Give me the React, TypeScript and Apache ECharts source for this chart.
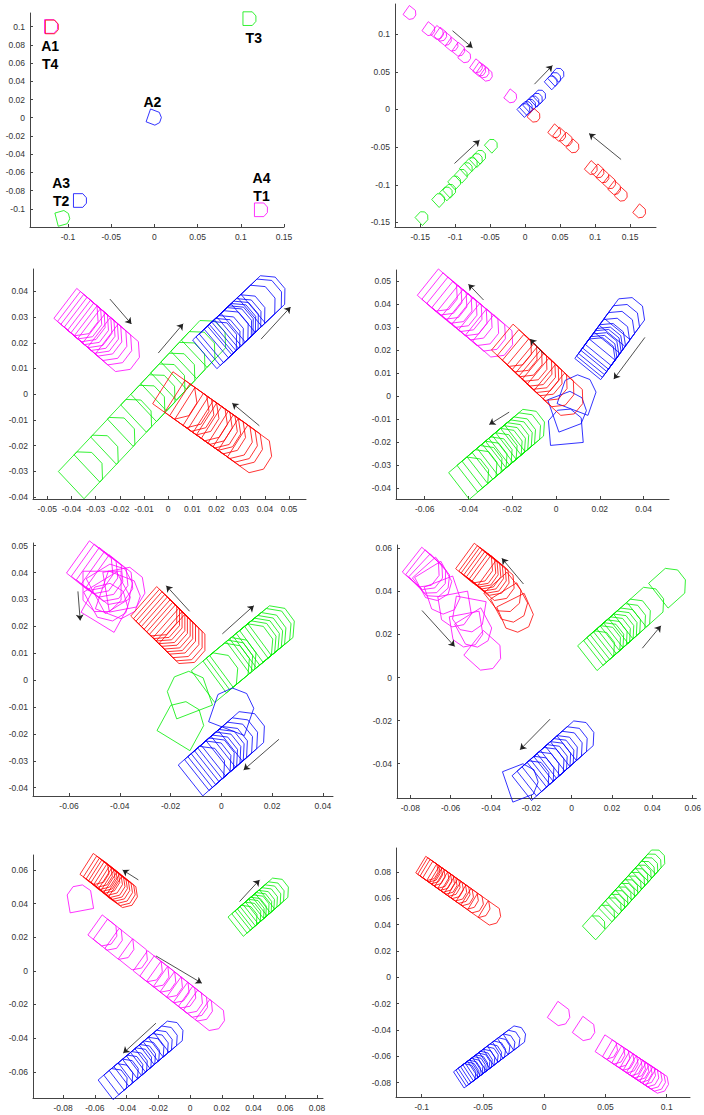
import React, { useEffect, useRef } from "react";
import * as echarts from "echarts";

type Pose = [number, number, number]; // x, y, heading (deg)
type Arrow = [number, number, number, number];

const FOOT = 0.015;

// ---------- Panel 1 ----------
const p1Red: Pose[] = [[-0.1187, 0.0997, 0]];
const p1Magenta: Pose[] = [[-0.1197, 0.1002, 0], [0.1233, -0.1011, 0]];
const p1Blue: Pose[] = [[0, 0, -20], [-0.0862, -0.0909, 0]];
const p1Green: Pose[] = [[-0.106, -0.11, 15], [0.11, 0.1088, 0]];
const p1LabelNames = ["A1", "T4", "A2", "T3", "A3", "T2", "A4", "T1"];
const p1LabelPos: [number, number][] = [
  [-0.1207, 0.079], [-0.1207, 0.0593], [-0.0023, 0.0176], [0.115, 0.088],
  [-0.108, -0.0714], [-0.108, -0.091], [0.124, -0.066], [0.124, -0.0857],
];

// ---------- Panel 2 ----------
const p2Magenta: Pose[] = [
  [-0.164, 0.1275, -37], [-0.137, 0.106, -37], [-0.1248, 0.101, -37], [-0.12, 0.0987, -37],
  [-0.1133, 0.093, -37], [-0.1038, 0.0854, -37], [-0.0943, 0.0788, -37], [-0.0857, 0.07, -37],
  [-0.069, 0.0567, -37], [-0.0643, 0.0522, -37], [-0.0595, 0.05, -37], [-0.0548, 0.0456, -37],
  [-0.02, 0.0168, -37],
];
const p2Blue: Pose[] = [
  [-0.001, 0, 45], [0.0024, 0.0027, 45], [0.0071, 0.0058, 45], [0.0119, 0.0102, 45],
  [0.0167, 0.0137, 45], [0.0214, 0.018, 45], [0.038, 0.0367, 45], [0.0429, 0.0412, 45],
  [0.0476, 0.0469, 45],
];
const p2Red: Pose[] = [
  [0.0133, -0.0089, -40], [0.0429, -0.0297, -40], [0.05, -0.0341, -40], [0.0595, -0.0407, -40],
  [0.069, -0.0496, -40], [0.0952, -0.0784, -40], [0.1048, -0.0828, -40], [0.1119, -0.0894, -40],
  [0.1214, -0.0974, -40], [0.1286, -0.1049, -40], [0.1381, -0.1138, -40], [0.1643, -0.1359, -40],
];
const p2Green: Pose[] = [
  [-0.1467, -0.1434, 45], [-0.1229, -0.1195, 45], [-0.1119, -0.1107, 45], [-0.1071, -0.1071, 45],
  [-0.1, -0.0961, 45], [-0.0905, -0.0872, 45], [-0.0833, -0.0784, 45], [-0.0762, -0.0717, 45],
  [-0.069, -0.0664, 45], [-0.0643, -0.062, 45], [-0.0476, -0.0474, 45],
];
const p2Arrows: Arrow[] = [
  [-0.1038, 0.1045, -0.0752, 0.0819],
  [0.0133, 0.0336, 0.039, 0.0584],
  [0.1371, -0.0664, 0.0914, -0.0319],
  [-0.101, -0.0717, -0.0652, -0.0407],
];

// ---------- Panel 3 ----------
const p3Red: Pose[] = [
  [0.004, -0.0017, -34], [0.009, -0.005, -34], [0.011, -0.0064, -34], [0.0131, -0.0078, -34],
  [0.0166, -0.0101, -34], [0.0186, -0.0115, -34], [0.0207, -0.0129, -34], [0.0221, -0.0138, -34],
  [0.0241, -0.0152, -34], [0.0269, -0.017, -34], [0.029, -0.0184, -34], [0.0311, -0.0198, -34],
  [0.0349, -0.0225, -34],
];
const p3Blue: Pose[] = [
  [0.0207, 0.0205, 42], [0.0221, 0.0217, 42], [0.0235, 0.0228, 42], [0.0255, 0.0247, 42],
  [0.0269, 0.0259, 42], [0.0276, 0.0266, 42], [0.0286, 0.0275, 42], [0.0297, 0.0284, 42],
  [0.0308, 0.0294, 42], [0.0324, 0.0309, 42], [0.0366, 0.0346, 42], [0.0393, 0.037, 42],
  [0.0407, 0.0383, 42],
];
const p3Green: Pose[] = [
  [-0.0348, -0.0301, 45], [-0.0283, -0.0236, 45], [-0.0214, -0.0167, 45], [-0.0145, -0.0097, 45],
  [-0.009, -0.0042, 45], [-0.0048, -0.0001, 45], [-0.0007, 0.0041, 45], [0.0034, 0.0083, 45],
  [0.0076, 0.0125, 45], [0.0117, 0.0167, 45], [0.0161, 0.021, 45],
];
const p3Magenta: Pose[] = [
  [-0.0367, 0.0306, -39], [-0.0352, 0.0294, -39], [-0.0338, 0.0283, -39], [-0.0324, 0.0272, -39],
  [-0.031, 0.026, -39], [-0.0297, 0.0249, -39], [-0.0283, 0.0238, -39], [-0.0269, 0.0227, -39],
  [-0.0248, 0.021, -39], [-0.0228, 0.0193, -39], [-0.0196, 0.0167, -39],
];
const p3Arrows: Arrow[] = [
  [-0.0241, 0.037, -0.0152, 0.0273],
  [-0.0041, 0.016, 0.0062, 0.0274],
  [0.0384, 0.0214, 0.0506, 0.0339],
  [0.0377, -0.0123, 0.0265, -0.0035],
];

// ---------- Panel 4 ----------
const p4Magenta: Pose[] = [
  [-0.0528, 0.0449, -40], [-0.0507, 0.0432, -40], [-0.0484, 0.0414, -40], [-0.0461, 0.0396, -40],
  [-0.0438, 0.0378, -40], [-0.0415, 0.036, -40], [-0.0392, 0.0342, -40], [-0.0369, 0.0324, -40],
  [-0.0339, 0.0299, -40], [-0.0308, 0.0275, -40], [-0.0275, 0.0249, -40],
];
const p4Red: Pose[] = [
  [-0.0189, 0.0208, -41], [-0.0163, 0.0184, -41], [-0.014, 0.0163, -41], [-0.0118, 0.0143, -41],
  [-0.0095, 0.0122, -41], [-0.0079, 0.0108, -41], [-0.0064, 0.0094, -41], [-0.0049, 0.008, -41],
  [-0.0026, 0.0059, -41], [0.0005, 0.0032, -41], [0.0046, -0.0006, -41],
];
const p4Blue: Pose[] = [
  [0.0191, 0.0177, 52], [0.0199, 0.0187, 52], [0.0208, 0.0199, 52], [0.0218, 0.0213, 52],
  [0.0226, 0.0223, 52], [0.0238, 0.0239, 52], [0.0257, 0.0262, 52], [0.0279, 0.0292, 52],
  [0.0302, 0.0322, 52], [0.0325, 0.0352, 52],
  [0.0101, 0.0012, 70], [0.0058, -0.0061, 20], [0.0043, -0.0134, 95],
];
const p4Green: Pose[] = [
  [-0.0385, -0.0345, 39], [-0.0347, -0.0313, 39], [-0.0324, -0.0295, 39], [-0.0301, -0.0276, 39],
  [-0.0278, -0.0257, 39], [-0.0255, -0.0239, 39], [-0.0232, -0.022, 39], [-0.0217, -0.0208, 39],
  [-0.0202, -0.0195, 39], [-0.0186, -0.0183, 39], [-0.0171, -0.017, 39], [-0.0148, -0.0152, 39],
  [-0.013, -0.0137, 39],
];
const p4Arrows: Arrow[] = [
  [-0.0331, 0.0419, -0.04, 0.0488],
  [-0.0056, 0.0183, -0.0118, 0.0249],
  [0.0406, 0.0256, 0.0264, 0.0074],
  [-0.0214, -0.007, -0.0305, -0.0124],
];

// ---------- Panel 5 ----------
const p5Magenta: Pose[] = [
  [-0.0505, 0.0413, -37], [-0.0486, 0.0401, -37], [-0.0466, 0.0388, -37], [-0.0446, 0.0373, -37],
  [-0.0427, 0.0361, -37],
  [-0.047, 0.033, -90], [-0.044, 0.03, -60], [-0.04, 0.031, -20], [-0.038, 0.034, 10],
  [-0.043, 0.035, 30], [-0.045, 0.028, 60],
];
const p5Red: Pose[] = [
  [-0.0251, 0.0242, -43], [-0.024, 0.0232, -43], [-0.023, 0.0223, -43], [-0.0219, 0.0213, -43],
  [-0.0209, 0.0203, -43], [-0.0198, 0.0193, -43], [-0.0188, 0.0183, -43], [-0.0177, 0.0174, -43],
  [-0.0164, 0.0161, -43], [-0.0151, 0.0149, -43], [-0.014, 0.0139, -43],
];
const p5Green: Pose[] = [
  [-0.0151, -0.016, 60], [-0.0131, -0.0048, 110],
  [-0.0013, 0.0022, 38], [0.0033, 0.0058, 38], [0.0046, 0.0069, 38], [0.0059, 0.0079, 38],
  [0.0125, 0.013, 38], [0.0138, 0.0141, 38], [0.0151, 0.0151, 38], [0.0164, 0.0161, 38],
  [0.0177, 0.0172, 38], [0.0197, 0.0187, 38], [0.021, 0.0197, 38],
];
const p5Blue: Pose[] = [
  [-0.0064, -0.0325, 40], [-0.0039, -0.0305, 40], [-0.0026, -0.0294, 40], [-0.0013, -0.0283, 40],
  [0, -0.0272, 40], [0.0013, -0.0262, 40], [0.0026, -0.0251, 40], [0.0046, -0.0235, 40],
  [0.0066, -0.0219, 40], [0.0093, -0.0196, 40], [0.0046, -0.011, 70],
];
const p5Arrows: Arrow[] = [
  [-0.0565, 0.033, -0.0556, 0.0222],
  [-0.0125, 0.0256, -0.0217, 0.0351],
  [0.0004, 0.0172, 0.0128, 0.0277],
  [0.0227, -0.022, 0.0088, -0.0334],
];

// ---------- Panel 6 ----------
const p6Red: Pose[] = [
  [-0.047, 0.0518, -38], [-0.0454, 0.0507, -38], [-0.0442, 0.0499, -38], [-0.0429, 0.049, -38],
  [-0.0416, 0.0481, -38], [-0.0402, 0.0471, -38], [-0.0388, 0.0461, -38], [-0.0363, 0.0437, -38],
  [-0.033, 0.0383, -50], [-0.03, 0.0337, -60], [-0.0272, 0.0291, -65],
];
const p6Magenta: Pose[] = [
  [-0.0734, 0.0499, -40], [-0.0717, 0.0487, -40], [-0.0701, 0.0468, -45], [-0.0684, 0.0453, -50],
  [-0.0676, 0.0437, -60], [-0.0635, 0.0375, -70], [-0.0577, 0.0314, -80], [-0.0511, 0.0291, -100],
  [-0.052, 0.0221, -80], [-0.0478, 0.0221, -60], [-0.0429, 0.0113, -40],
];
const p6Green: Pose[] = [
  [0.0135, 0.0138, 40], [0.0165, 0.0162, 40], [0.0181, 0.0176, 40], [0.0198, 0.0189, 40],
  [0.0214, 0.0203, 40], [0.0231, 0.0216, 40], [0.0247, 0.023, 40], [0.0264, 0.0244, 40],
  [0.0289, 0.0264, 40], [0.0313, 0.0285, 40], [0.0379, 0.034, 40], [0.0487, 0.0428, 40],
];
const p6Blue: Pose[] = [
  [-0.0247, -0.0482, 20],
  [-0.019, -0.0465, 40], [-0.0165, -0.0444, 40], [-0.014, -0.0424, 40], [-0.0115, -0.0403, 40],
  [-0.0099, -0.039, 40], [-0.0082, -0.0376, 40], [-0.0066, -0.0362, 40], [-0.0049, -0.0348, 40],
  [-0.0025, -0.0328, 40], [0, -0.0307, 40], [0.0033, -0.028, 40],
];
const p6Arrows: Arrow[] = [
  [-0.0239, 0.0434, -0.0346, 0.0553],
  [-0.0742, 0.0311, -0.058, 0.0144],
  [0.035, 0.0136, 0.0442, 0.024],
  [-0.0107, -0.0193, -0.0256, -0.0335],
];

// ---------- Panel 7 ----------
const p7Red: Pose[] = [
  [-0.059, 0.0594, -34], [-0.0569, 0.0578, -34], [-0.0552, 0.0565, -34], [-0.0537, 0.0554, -34],
  [-0.0522, 0.0543, -34], [-0.0505, 0.053, -34], [-0.0489, 0.0517, -34], [-0.0474, 0.0506, -34],
  [-0.0459, 0.0495, -34], [-0.0442, 0.0482, -34], [-0.0425, 0.0469, -34], [-0.0411, 0.0457, -34],
];
const p7Magenta: Pose[] = [
  [-0.0695, 0.0432, 100],
  [-0.0539, 0.0228, -37], [-0.0505, 0.0203, -37], [-0.0432, 0.0148, -37], [-0.0347, 0.0086, -37],
  [-0.0253, 0.0015, -37], [-0.0211, -0.0016, -37], [-0.0168, -0.0047, -37], [-0.0126, -0.0078, -37],
  [-0.0084, -0.011, -37], [-0.0042, -0.0141, -37], [0, -0.0172, -37], [0.0032, -0.0196, -37],
  [0.0063, -0.0219, -37], [0.0139, -0.0275, -37],
];
const p7Green: Pose[] = [
  [0.0345, 0.0311, 40], [0.0369, 0.033, 40], [0.039, 0.0347, 40], [0.0404, 0.0359, 40],
  [0.0421, 0.0373, 40], [0.0438, 0.0387, 40], [0.0455, 0.04, 40], [0.0474, 0.0416, 40],
  [0.0495, 0.0433, 40], [0.0516, 0.0451, 40], [0.0543, 0.0473, 40],
];
const p7Blue: Pose[] = [
  [-0.0474, -0.066, 39], [-0.0438, -0.0631, 39], [-0.0404, -0.0604, 39], [-0.0375, -0.058, 39],
  [-0.0347, -0.0559, 39], [-0.032, -0.0537, 39], [-0.0295, -0.0517, 39], [-0.027, -0.0496, 39],
  [-0.0242, -0.0474, 39], [-0.0215, -0.0452, 39], [-0.019, -0.0432, 39], [-0.0158, -0.0407, 39],
  [-0.0122, -0.0378, 39],
];
const p7Arrows: Arrow[] = [
  [-0.0326, 0.0541, -0.0425, 0.06],
  [-0.0215, 0.0089, 0.0074, -0.0073],
  [0.0312, 0.0412, 0.0438, 0.0541],
  [-0.0215, -0.0311, -0.0421, -0.0489],
];

// ---------- Panel 8 ----------
const p8Red: Pose[] = [
  [-0.0945, 0.0816, -33], [-0.0929, 0.0805, -33], [-0.091, 0.0792, -33], [-0.0888, 0.0778, -33],
  [-0.0856, 0.0757, -33], [-0.0834, 0.0742, -33], [-0.0812, 0.0728, -33], [-0.0791, 0.0713, -33],
  [-0.0766, 0.0697, -33], [-0.0739, 0.0679, -33], [-0.0712, 0.0661, -33], [-0.0685, 0.0643, -33],
  [-0.0657, 0.0625, -33], [-0.0617, 0.0598, -33], [-0.0576, 0.0571, -33], [-0.0522, 0.0535, -33],
  [-0.0435, 0.0478, -33],
];
const p8Green: Pose[] = [
  [0.0418, 0.0391, 46], [0.0497, 0.0472, 46], [0.0551, 0.0528, 46], [0.0579, 0.0555, 46],
  [0.0606, 0.0583, 46], [0.0633, 0.0611, 46], [0.066, 0.0638, 46], [0.0687, 0.0666, 46],
  [0.0714, 0.0694, 46], [0.0742, 0.0722, 46], [0.0769, 0.075, 46], [0.0796, 0.0777, 46],
  [0.0823, 0.0805, 46], [0.085, 0.0833, 46], [0.0877, 0.0861, 46], [0.0907, 0.0892, 46],
];
const p8Blue: Pose[] = [
  [-0.0636, -0.0737, 35], [-0.0617, -0.0723, 35], [-0.0598, -0.071, 35], [-0.0579, -0.0697, 35],
  [-0.056, -0.0683, 35], [-0.0541, -0.067, 35], [-0.0522, -0.0656, 35], [-0.0503, -0.0643, 35],
  [-0.0481, -0.0627, 35], [-0.0454, -0.0608, 35], [-0.0427, -0.0588, 35], [-0.0394, -0.0565, 35],
  [-0.0359, -0.054, 35], [-0.0318, -0.0511, 35], [-0.0277, -0.0483, 35], [-0.0231, -0.045, 35],
];
const p8Magenta: Pose[] = [
  [0.013, -0.0287, -35], [0.0334, -0.0401, -35],
  [0.0519, -0.0541, -32], [0.0579, -0.0579, -32], [0.0619, -0.0604, -32], [0.0655, -0.0626, -32],
  [0.0687, -0.0646, -32], [0.072, -0.0667, -32], [0.0747, -0.0684, -32], [0.0774, -0.0701, -32],
  [0.0801, -0.0718, -32], [0.0829, -0.0734, -32], [0.0856, -0.0751, -32], [0.0883, -0.0768, -32],
  [0.091, -0.0785, -32], [0.0935, -0.08, -32],
];

// ---------- Axes (ranges and tick labels) ----------
const xRanges: [number, number][] = [
  [-0.144, 0.15], [-0.186, 0.187], [-0.0559, 0.057], [-0.0731, 0.0516],
  [-0.0742, 0.044], [-0.0866, 0.0618], [-0.099, 0.0838], [-0.121, 0.119],
];
const yRanges: [number, number][] = [
  [-0.12, 0.115], [-0.156, 0.14], [-0.0408, 0.0487], [-0.0449, 0.055],
  [-0.0431, 0.051], [-0.0559, 0.0615], [-0.0756, 0.0689], [-0.091, 0.0983],
];
const xTicks: number[][] = [
  [-0.1, -0.05, 0, 0.05, 0.1, 0.15],
  [-0.15, -0.1, -0.05, 0, 0.05, 0.1, 0.15],
  [-0.05, -0.04, -0.03, -0.02, -0.01, 0, 0.01, 0.02, 0.03, 0.04, 0.05],
  [-0.06, -0.04, -0.02, 0, 0.02, 0.04],
  [-0.06, -0.04, -0.02, 0, 0.02, 0.04],
  [-0.08, -0.06, -0.04, -0.02, 0, 0.02, 0.04, 0.06],
  [-0.08, -0.06, -0.04, -0.02, 0, 0.02, 0.04, 0.06, 0.08],
  [-0.1, -0.05, 0, 0.05, 0.1],
];
const yTicks: number[][] = [
  [-0.1, -0.08, -0.06, -0.04, -0.02, 0, 0.02, 0.04, 0.06, 0.08, 0.1],
  [-0.15, -0.1, -0.05, 0, 0.05, 0.1],
  [-0.04, -0.03, -0.02, -0.01, 0, 0.01, 0.02, 0.03, 0.04],
  [-0.04, -0.03, -0.02, -0.01, 0, 0.01, 0.02, 0.03, 0.04, 0.05],
  [-0.04, -0.03, -0.02, -0.01, 0, 0.01, 0.02, 0.03, 0.04, 0.05],
  [-0.04, -0.02, 0, 0.02, 0.04, 0.06],
  [-0.06, -0.04, -0.02, 0, 0.02, 0.04, 0.06],
  [-0.08, -0.06, -0.04, -0.02, 0, 0.02, 0.04, 0.06, 0.08],
];

const panels: { red: Pose[]; green: Pose[]; blue: Pose[]; magenta: Pose[]; arrows: Arrow[] }[] = [
  { red: p1Red, green: p1Green, blue: p1Blue, magenta: p1Magenta, arrows: [] },
  { red: p2Red, green: p2Green, blue: p2Blue, magenta: p2Magenta, arrows: p2Arrows },
  { red: p3Red, green: p3Green, blue: p3Blue, magenta: p3Magenta, arrows: p3Arrows },
  { red: p4Red, green: p4Green, blue: p4Blue, magenta: p4Magenta, arrows: p4Arrows },
  { red: p5Red, green: p5Green, blue: p5Blue, magenta: p5Magenta, arrows: p5Arrows },
  { red: p6Red, green: p6Green, blue: p6Blue, magenta: p6Magenta, arrows: p6Arrows },
  { red: p7Red, green: p7Green, blue: p7Blue, magenta: p7Magenta, arrows: p7Arrows },
  { red: p8Red, green: p8Green, blue: p8Blue, magenta: p8Magenta, arrows: [] },
];

// ---------- Layout (pixels) ----------
const GRID_BOXES = [
  { left: 30, top: 13, width: 254, height: 214 },
  { left: 395, top: 4, width: 261, height: 223 },
  { left: 33, top: 269, width: 273, height: 230 },
  { left: 396, top: 270, width: 273, height: 229 },
  { left: 33, top: 543, width: 300, height: 253 },
  { left: 397, top: 545, width: 300, height: 253 },
  { left: 33, top: 855, width: 290, height: 243 },
  { left: 396, top: 848, width: 294, height: 249 },
];

const COLORS = { red: "#ff0000", green: "#00ee00", blue: "#0000ff", magenta: "#ff00ff" };
const SHAPE: [number, number][] = [
  [-0.5, -0.5], [0.22, -0.5], [0.5, -0.2], [0.5, 0.2], [0.22, 0.5], [-0.5, 0.5],
];
const FONT = "'Liberation Sans', Arial, sans-serif";

function fmt(v: number) {
  const n = Number(Number(v).toFixed(4));
  return n === 0 ? "0" : String(n);
}

function footprintSeries(gi: number, poses: Pose[], color: string) {
  return {
    type: "custom",
    xAxisIndex: gi,
    yAxisIndex: gi,
    silent: true,
    clip: false,
    data: poses,
    renderItem: (_params: any, api: any) => {
      const x = api.value(0);
      const y = api.value(1);
      const th = (api.value(2) * Math.PI) / 180;
      const c = Math.cos(th);
      const s = Math.sin(th);
      const pts = SHAPE.map(([u, v]) =>
        api.coord([x + FOOT * (u * c - v * s), y + FOOT * (u * s + v * c)])
      );
      return {
        type: "polygon",
        shape: { points: pts },
        style: { fill: "none", stroke: color, lineWidth: 0.8 },
      };
    },
  };
}

function arrowSeries(gi: number, arrows: Arrow[]) {
  return {
    type: "lines",
    coordinateSystem: "cartesian2d",
    xAxisIndex: gi,
    yAxisIndex: gi,
    silent: true,
    symbol: ["none", "arrow"],
    symbolSize: 6,
    lineStyle: { color: "#222", width: 0.8, opacity: 1 },
    data: arrows.map((a) => ({ coords: [[a[0], a[1]], [a[2], a[3]]] })),
  };
}

function buildOption() {
  const grid = GRID_BOXES.map((g) => ({ ...g, containLabel: false }));
  const axisCommon = {
    axisLine: { onZero: false, lineStyle: { color: "#444", width: 1 } },
    splitLine: { show: false },
  };
  const labelStyle = { formatter: fmt, color: "#333", fontSize: 8.5, fontFamily: FONT, margin: 5 };
  const xAxis = xRanges.map((r, i) => ({
    type: "value",
    gridIndex: i,
    min: r[0],
    max: r[1],
    ...axisCommon,
    axisTick: { inside: true, length: 3, customValues: xTicks[i], lineStyle: { color: "#444" } },
    axisLabel: { customValues: xTicks[i], ...labelStyle },
  }));
  const yAxis = yRanges.map((r, i) => ({
    type: "value",
    gridIndex: i,
    min: r[0],
    max: r[1],
    ...axisCommon,
    axisTick: { inside: true, length: 3, customValues: yTicks[i], lineStyle: { color: "#444" } },
    axisLabel: { customValues: yTicks[i], ...labelStyle },
  }));

  const series: any[] = [];
  panels.forEach((p, i) => {
    series.push(footprintSeries(i, p.magenta, COLORS.magenta));
    series.push(footprintSeries(i, p.green, COLORS.green));
    series.push(footprintSeries(i, p.blue, COLORS.blue));
    series.push(footprintSeries(i, p.red, COLORS.red));
    if (p.arrows.length) series.push(arrowSeries(i, p.arrows));
  });

  series.push({
    type: "custom",
    xAxisIndex: 0,
    yAxisIndex: 0,
    silent: true,
    clip: false,
    data: p1LabelPos,
    renderItem: (params: any, api: any) => {
      const pt = api.coord([api.value(0), api.value(1)]);
      return {
        type: "text",
        x: pt[0],
        y: pt[1],
        style: {
          text: p1LabelNames[params.dataIndex],
          fill: "#000",
          font: `bold 14px ${FONT}`,
          textAlign: "center",
          textVerticalAlign: "middle",
        },
      };
    },
  });

  return { animation: false, backgroundColor: "#fff", grid, xAxis, yAxis, series };
}

export default function App() {
  const ref = useRef<HTMLDivElement>(null);
  useEffect(() => {
    if (!ref.current) return;
    const chart = echarts.init(ref.current, undefined, { renderer: "svg" });
    chart.setOption(buildOption() as any);
    return () => chart.dispose();
  }, []);
  return (
    <div
      ref={ref}
      style={{ position: "absolute", left: 0, top: 0, width: 704, height: 1115, background: "#fff" }}
    />
  );
}
